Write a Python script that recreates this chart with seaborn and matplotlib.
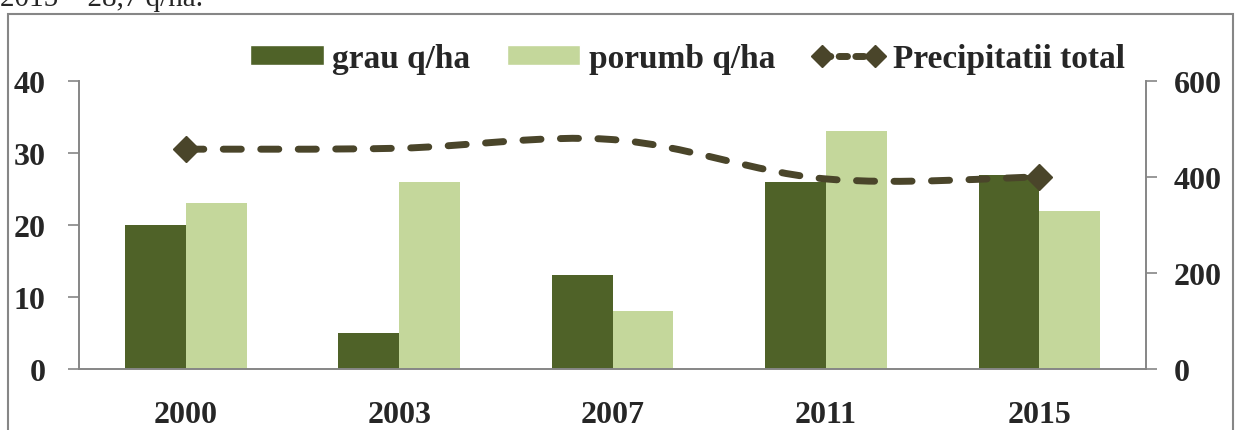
import matplotlib
matplotlib.use("Agg")
import matplotlib.pyplot as plt
import seaborn as sns
import pandas as pd
from matplotlib.path import Path
from matplotlib.patches import PathPatch, Patch, Rectangle
from matplotlib.lines import Line2D

# values
years = ["2000", "2003", "2007", "2011", "2015"]
grau = [20, 5, 13, 26, 27]
porumb = [23, 26, 8, 33, 22]
precipitatii = [458, 460, 478, 396, 400]

c_grau = "#4F6228"
c_porumb = "#C4D79B"
c_line = "#4A452A"
c_axis = "#868686"

sns.set_theme(style="white")
plt.rcParams["font.family"] = ["Liberation Serif", "DejaVu Serif"]
plt.rcParams["font.weight"] = "bold"

df = pd.DataFrame({
    "an": years * 2,
    "val": grau + porumb,
    "cultura": ["grau q/ha"] * len(years) + ["porumb q/ha"] * len(years),
})

fig = plt.figure(figsize=(12.35, 4.31), dpi=100)
ax = fig.add_axes([0.064, 0.1415, 0.864, 0.6682])

sns.barplot(data=df, x="an", y="val", hue="cultura", order=years,
            palette=[c_grau, c_porumb], width=0.57, gap=0, linewidth=0,
            saturation=1, legend=False, ax=ax)

ax.set_xlim(-0.5, len(years) - 0.5)
ax.set_ylim(0, 40)
ax.set_yticks([0, 10, 20, 30, 40])
ax.set_xlabel("")
ax.set_ylabel("")

# category boundary ticks like Excel
ax.set_xticks([i - 0.5 for i in range(len(years) + 1)], minor=True)
ax.tick_params(axis="x", which="major", length=0, pad=22, labelsize=23)
ax.tick_params(axis="x", which="minor", length=10, width=1.2, color=c_axis, direction="out")
ax.tick_params(axis="y", length=8, width=1.2, color=c_axis, direction="out", pad=16, labelsize=23)
for lbl in ax.get_xticklabels() + ax.get_yticklabels():
    lbl.set_fontweight("bold")

for s in ["top", "right"]:
    ax.spines[s].set_visible(False)
for s in ["left", "bottom"]:
    ax.spines[s].set_color(c_axis)
    ax.spines[s].set_linewidth(1.4)

ax2 = ax.twinx()
ax2.set_ylim(0, 600)
ax2.set_yticks([0, 200, 400, 600])
ax2.tick_params(axis="y", length=8, width=1.2, color=c_axis, direction="out", pad=12, labelsize=23)
for lbl in ax2.get_yticklabels():
    lbl.set_fontweight("bold")
for s in ["top", "left", "bottom"]:
    ax2.spines[s].set_visible(False)
ax2.spines["right"].set_color(c_axis)
ax2.spines["right"].set_linewidth(1.4)
ax2.grid(False)

# smoothed line (catmull-rom bezier, like Excel "smoothed line")
xs = list(range(len(years)))
pts = list(zip(xs, precipitatii))
verts = [pts[0]]
codes = [Path.MOVETO]
n = len(pts)
for i in range(n - 1):
    p0 = pts[i - 1] if i > 0 else pts[i]
    p1 = pts[i]
    p2 = pts[i + 1]
    p3 = pts[i + 2] if i + 2 < n else pts[i + 1]
    c1 = (p1[0] + (p2[0] - p0[0]) / 6, p1[1] + (p2[1] - p0[1]) / 6)
    c2 = (p2[0] - (p3[0] - p1[0]) / 6, p2[1] - (p3[1] - p1[1]) / 6)
    verts += [c1, c2, p2]
    codes += [Path.CURVE4] * 3
curve = PathPatch(Path(verts, codes), fill=False, edgecolor=c_line, lw=5,
                  linestyle=(0, (2.6, 2.8)), capstyle="round", zorder=3)
ax2.add_patch(curve)
ax2.plot([xs[0], xs[-1]], [precipitatii[0], precipitatii[-1]], linestyle="none",
         marker="D", markersize=13, color=c_line, zorder=4)

handles = [
    Patch(facecolor=c_grau, label="grau q/ha"),
    Patch(facecolor=c_porumb, label="porumb q/ha"),
    Line2D([], [], color=c_line, lw=5, linestyle=(0, (1.2, 1.2)), marker="D",
           markersize=11, dash_capstyle="round", label="Precipitatii total"),
]
fig.legend(handles=handles, loc="center", bbox_to_anchor=(0.557, 0.862), ncol=3,
           frameon=False, numpoints=2, handlelength=2.2, handleheight=0.55,
           handletextpad=0.25, columnspacing=1.1,
           prop={"family": "Liberation Serif", "weight": "bold", "size": 24})

# outer chart border and cropped caption line
fig.patches.append(Rectangle((8 / 1235, -0.05), 1225 / 1235, 1 - 15 / 431 + 0.05,
                             transform=fig.transFigure, fill=False,
                             edgecolor=c_axis, lw=1.5))
fig.text(0.0, 1 - 6 / 431, "2015 – 28,7 q/ha.", fontsize=21, fontweight="normal",
         va="baseline", ha="left")

fig.savefig("out.png", dpi=100)
